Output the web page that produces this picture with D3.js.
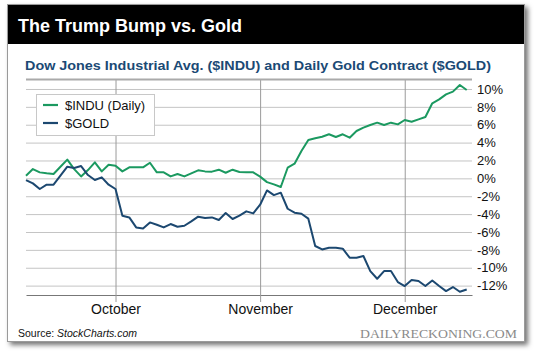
<!DOCTYPE html>
<html>
<head>
<meta charset="utf-8">
<script src="https://cdn.jsdelivr.net/npm/d3@7"></script>
<style>
  html, body { margin: 0; padding: 0; background: #ffffff; }
  svg { display: block; font-family: "Liberation Sans", Arial, Helvetica, sans-serif; }
</style>
</head>
<body>
<svg id="chart" width="540" height="353"></svg>
<script>
// ---- Data (trading-day index, % change) ----
const indu = [0.3, 1.04, 0.67, 0.56, 0.49, 1.3, 2.09, 1.04, 0.22, 0.93,
  1.79, 0.78, 1.53, 1.42, 0.78, 1.23, 1.23, 1.23, 1.75, 0.67,
  0.67, 0.22, 0.49, 0.22, 0.56, 0.9, 0.78, 0.75, 0.97, 0.63,
  0.97, 0.71, 0.67, 0.67, 0.19, -0.42, -0.67, -0.97, 1.19, 1.64,
  3.06, 4.29, 4.48, 4.66, 4.93, 4.63, 4.93, 4.55, 5.3, 5.67,
  5.97, 6.23, 5.97, 6.23, 6.04, 6.53, 6.34, 6.6, 6.87, 8.4,
  8.84, 9.4, 9.7, 10.45, 9.89];
const gold = [-0.19, -0.56, -1.19, -0.71, -0.71, 0.3, 1.31, 1.16, 1.38, 0.37,
  -0.19, 0.11, -0.71, -1.19, -4.18, -4.37, -5.49, -5.6, -4.93, -5.19,
  -5.49, -5.11, -5.41, -5.3, -4.81, -4.29, -4.44, -4.37, -4.66, -3.88,
  -4.55, -4.18, -3.69, -3.92, -2.95, -1.35, -1.87, -1.6, -3.4, -3.84,
  -3.96, -4.51, -7.57, -7.95, -7.76, -7.76, -7.87, -8.88, -8.88, -8.69,
  -10.37, -11.23, -10.37, -10.37, -11.6, -12.05, -11.38, -11.49, -12.05, -11.42,
  -12.05, -12.61, -12.16, -12.69, -12.43];
const monthTicks = [13, 34, 55];
const monthLabels = ["October", "November", "December"];
const yTicks = [-12, -10, -8, -6, -4, -2, 0, 2, 4, 6, 8, 10];
const seriesNames = ["$INDU (Daily)", "$GOLD"];
const titleText = "The Trump Bump vs. Gold";
const subtitleText = "Dow Jones Industrial Avg. ($INDU) and Daily Gold Contract ($GOLD)";

const GREEN = "#1b9960";
const BLUE = "#1c4870";
const SANS = "'Liberation Sans', Arial, Helvetica, sans-serif";

const svg = d3.select("#chart");
const defs = svg.append("defs");
const f = defs.append("filter").attr("id", "shadow")
  .attr("x", "-5%").attr("y", "-5%").attr("width", "115%").attr("height", "120%");
f.append("feDropShadow").attr("dx", 3).attr("dy", 3).attr("stdDeviation", 2.5)
  .attr("flood-color", "#000").attr("flood-opacity", 0.55);

// Card
svg.append("rect").attr("x", 7.5).attr("y", 4.5).attr("width", 517).attr("height", 337)
  .attr("fill", "#fff").attr("stroke", "#9a9a9a").attr("stroke-width", 1)
  .attr("filter", "url(#shadow)");
svg.append("rect").attr("x", 8).attr("y", 5).attr("width", 516).attr("height", 39)
  .attr("fill", "#000");
svg.append("text").attr("x", 18).attr("y", 31.5).attr("fill", "#fff")
  .attr("font-size", 18).attr("font-weight", "bold").text(titleText);
svg.append("text").attr("x", 25).attr("y", 70).attr("fill", "#1b4a75")
  .attr("font-size", 13.5).attr("font-weight", "bold")
  .attr("textLength", 466).attr("lengthAdjust", "spacingAndGlyphs")
  .text(subtitleText);

// Scales
const L = 26, R = 472, T = 79.5, B = 295;
const x = d3.scaleLinear().domain([0, 64.77]).range([L, R]);
const y = d3.scaleLinear().domain([-13.05, 11.06]).range([B, T]);

// Horizontal grid + right axis labels
const yAxis = d3.axisRight(y).tickValues(yTicks).tickSize(-(R - L))
  .tickFormat(d => d + "%").tickPadding(5);
const gy = svg.append("g").attr("transform", `translate(${R},0)`).call(yAxis);
gy.select(".domain").remove();
gy.selectAll(".tick line").attr("stroke", "#c4c4c4").attr("stroke-width", 1);
gy.selectAll(".tick text").attr("font-size", 13).attr("fill", "#111")
  .attr("font-family", SANS);

// Vertical month gridlines + bottom axis
const xAxis = d3.axisBottom(x).tickValues(monthTicks)
  .tickFormat((d, i) => monthLabels[i]).tickSizeInner(-(B - T)).tickSizeOuter(0).tickPadding(9);
const gx = svg.append("g").attr("transform", `translate(0,${B})`).call(xAxis);
gx.select(".domain").attr("stroke", "#777").attr("stroke-width", 1.2);
gx.selectAll(".tick line").attr("stroke", "#9a9a9a").attr("y2", -(B - T)).attr("y1", 7);
gx.selectAll(".tick text").attr("font-size", 14).attr("fill", "#111")
  .attr("font-family", SANS).attr("dy", "0.71em");

// Top border line
svg.append("line").attr("x1", L).attr("x2", R).attr("y1", T).attr("y2", T)
  .attr("stroke", "#aaaaaa").attr("stroke-width", 2);

// Lines
const line = d3.line().x((d, i) => x(i)).y(d => y(d));
svg.append("path").datum(indu).attr("d", line).attr("fill", "none")
  .attr("stroke", GREEN).attr("stroke-width", 2).attr("stroke-linejoin", "round");
svg.append("path").datum(gold).attr("d", line).attr("fill", "none")
  .attr("stroke", BLUE).attr("stroke-width", 2).attr("stroke-linejoin", "round");

// Legend
const lg = svg.append("g");
lg.append("rect").attr("x", 36.5).attr("y", 94.5).attr("width", 118).attr("height", 41)
  .attr("fill", "#fff").attr("stroke", "#c8c8c8");
[GREEN, BLUE].forEach((c, i) => {
  const yy = 105 + i * 18;
  lg.append("line").attr("x1", 43).attr("x2", 58).attr("y1", yy).attr("y2", yy)
    .attr("stroke", c).attr("stroke-width", 2.2);
  lg.append("text").attr("x", 65).attr("y", yy + 4.7).attr("font-size", 13)
    .attr("fill", "#111").text(seriesNames[i]);
});

// Footer
const src = svg.append("text").attr("x", 18).attr("y", 337).attr("font-size", 10.5).attr("fill", "#111");
src.append("tspan").text("Source: ");
src.append("tspan").attr("font-style", "italic").text("StockCharts.com");
svg.append("text").attr("x", 517).attr("y", 338).attr("text-anchor", "end")
  .style("font-family", "'Liberation Serif', 'DejaVu Serif', 'Times New Roman', serif")
  .attr("font-size", 12.5).attr("fill", "#8a8a8a")
  .attr("textLength", 157).attr("lengthAdjust", "spacingAndGlyphs")
  .text("DAILYRECKONING.COM");
</script>
</body>
</html>
